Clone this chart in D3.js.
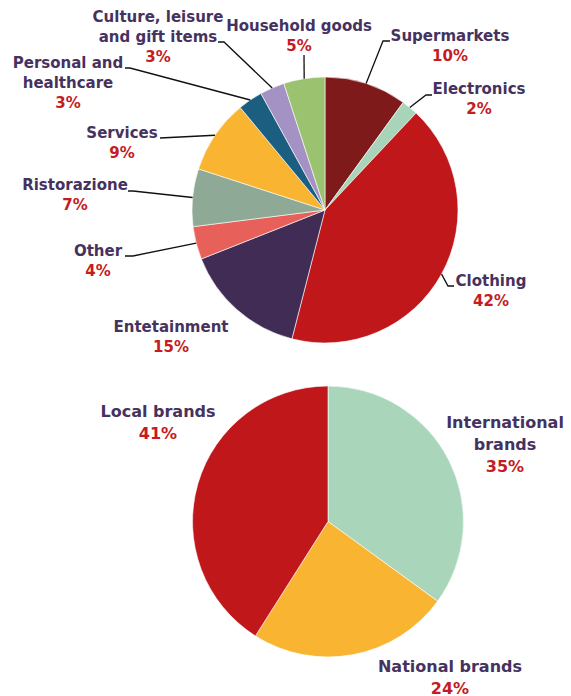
<!DOCTYPE html>
<html>
<head>
<meta charset="utf-8">
<script src="https://cdn.jsdelivr.net/npm/d3@7"></script>
<style>
  html, body { margin: 0; padding: 0; background: #fff; }
  svg text { font-family: "DejaVu Sans", Verdana, sans-serif; font-weight: bold; }
</style>
</head>
<body>
<svg id="chart" width="571" height="696"></svg>
<script>
// Store categories (share of outlets, %)
const storeCategories = ["Supermarkets", "Electronics", "Clothing", "Entetainment", "Other",
  "Ristorazione", "Services", "Personal and healthcare", "Culture, leisure and gift items", "Household goods"];
const storeShares = [10, 2, 42, 15, 4, 7, 9, 3, 3, 5];
const storeColors = ["#7f1a1b", "#a8d5ba", "#c0171a", "#412c55", "#e8605a",
  "#8eaa97", "#f9b431", "#1b5e80", "#a592c4", "#9bc26f"];

// Brand origin (%)
const brandCategories = ["International brands", "National brands", "Local brands"];
const brandShares = [35, 24, 41];
const brandColors = ["#a9d5ba", "#f9b431", "#c0171a"];

// Label placement: text lines (centre of first line), and optional leader elbow
const storeLabels = [
  { lines: ["Supermarkets"], x: 450, y: 36, elbow: [[383, 41], [390, 41]] },
  { lines: ["Electronics"], x: 479, y: 89, elbow: [[426, 95], [432, 95]] },
  { lines: ["Clothing"], x: 491, y: 281, elbow: [[448, 286], [454, 286]] },
  { lines: ["Entetainment"], x: 171, y: 327, elbow: null },
  { lines: ["Other"], x: 98, y: 251, elbow: [[133, 256], [125, 256]] },
  { lines: ["Ristorazione"], x: 75, y: 185, elbow: [[133, 191], [128, 191]] },
  { lines: ["Services"], x: 122, y: 133, elbow: [[160, 138]] },
  { lines: ["Personal and", "healthcare"], x: 68, y: 63, elbow: [[130, 68], [125, 68]] },
  { lines: ["Culture, leisure", "and gift items"], x: 158, y: 17, elbow: [[224, 42], [218, 42]] },
  { lines: ["Household goods"], x: 299, y: 26, elbow: [[304, 55]] }
];
const brandLabels = [
  { lines: ["International", "brands"], x: 505, y: 422 },
  { lines: ["National brands"], x: 450, y: 666 },
  { lines: ["Local brands"], x: 158, y: 411 }
];

const svg = d3.select("#chart");
const labelColor = "#46325e";
const pctColor = "#c41c22";

function drawPie(cfg) {
  const pie = d3.pie().sort(null).value(d => d.value);
  const arcs = pie(cfg.names.map((n, i) => ({ name: n, value: cfg.values[i], color: cfg.colors[i] })));
  const arc = d3.arc().innerRadius(0).outerRadius(cfg.r);
  const edge = d3.arc().innerRadius(cfg.r).outerRadius(cfg.r);
  const g = svg.append("g").attr("transform", `translate(${cfg.cx},${cfg.cy})`);

  g.selectAll("path.slice").data(arcs).join("path")
    .attr("class", "slice")
    .attr("d", arc)
    .attr("fill", d => d.data.color)
    .attr("stroke", "#ffffff")
    .attr("stroke-width", 0.6);

  const labels = svg.append("g");
  arcs.forEach((d, i) => {
    const L = cfg.labels[i];
    if (L.elbow) {
      const c = edge.centroid(d);
      const pts = [[cfg.cx + c[0], cfg.cy + c[1]]].concat(L.elbow);
      labels.append("path")
        .attr("d", d3.line()(pts))
        .attr("fill", "none")
        .attr("stroke", "#111")
        .attr("stroke-width", 1.3);
    }
    const t = labels.append("text")
      .attr("x", L.x).attr("y", L.y)
      .attr("text-anchor", "middle")
      .attr("font-size", cfg.fontSize);
    L.lines.forEach((line, k) => {
      t.append("tspan").attr("x", L.x).attr("dy", k === 0 ? "0.35em" : cfg.lh)
        .attr("fill", labelColor).text(line);
    });
    t.append("tspan").attr("x", L.x).attr("dy", cfg.lh)
      .attr("fill", pctColor).text(d3.format(".0f")(d.data.value) + "%");
  });
}

drawPie({ names: storeCategories, values: storeShares, colors: storeColors, labels: storeLabels,
  cx: 325, cy: 210, r: 133, fontSize: 15, lh: 20 });
drawPie({ names: brandCategories, values: brandShares, colors: brandColors, labels: brandLabels,
  cx: 328, cy: 521.5, r: 135.5, fontSize: 16, lh: 22 });
</script>
</body>
</html>
